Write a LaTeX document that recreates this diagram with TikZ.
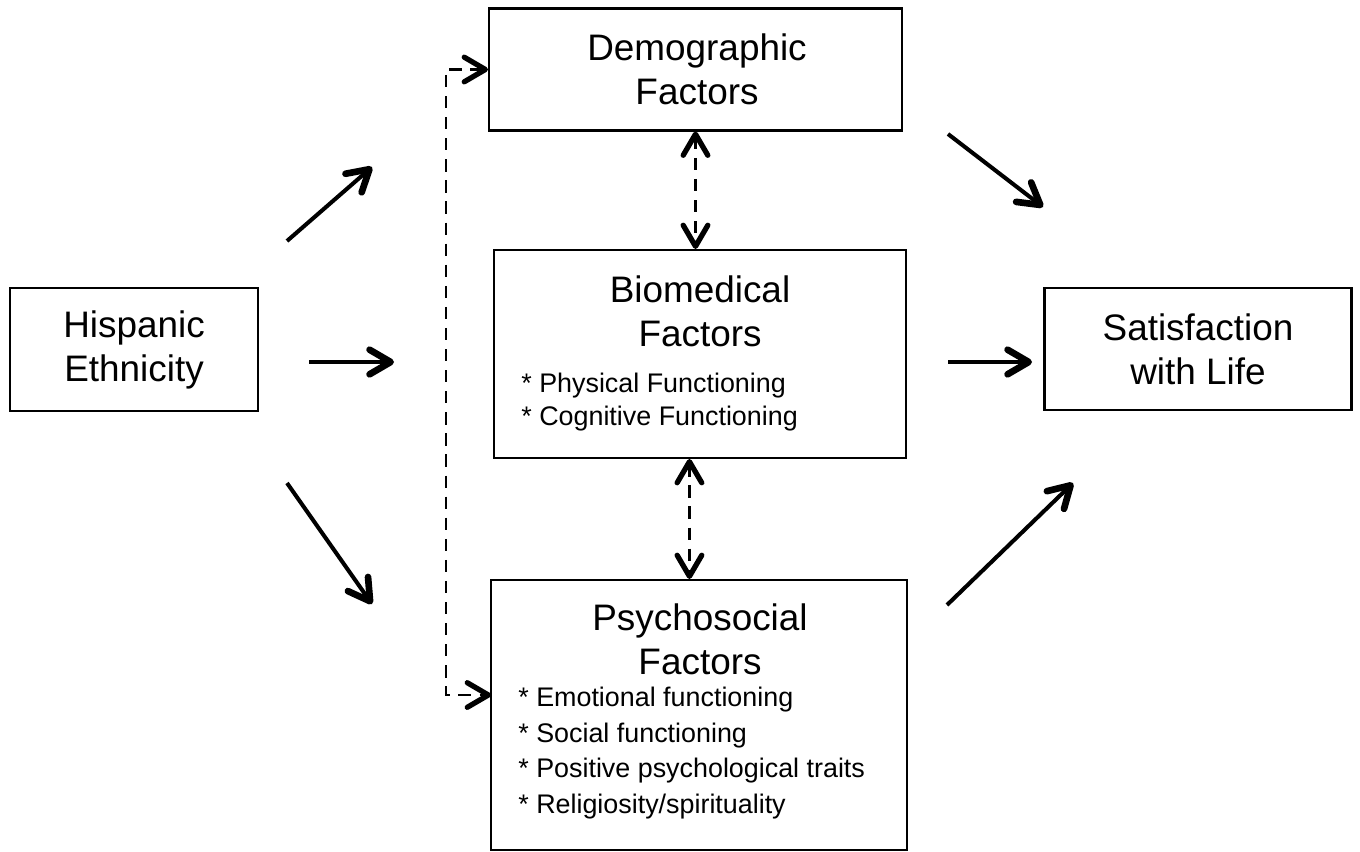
\documentclass[tikz,border=0pt]{standalone}
\usepackage{fontspec}
\setmainfont{Liberation Sans}
\usepackage{tikz}
\usetikzlibrary{arrows.meta}

\begin{document}
\begin{tikzpicture}[x=0.02cm, y=-0.02cm,
    box/.style={draw, line width=1.2pt, inner sep=0pt},
    title/.style={inner sep=0pt, align=center, font=\fontsize{21}{25}\selectfont},
    items/.style={inner sep=0pt, align=left, anchor=west},
    arr/.style={line width=2.3pt, -{Straight Barb[length=12pt, width=14pt, line width=3.8pt, round]}},
    dasharr/.style={line width=1.6pt, dash pattern=on 7pt off 5pt,
      {Straight Barb[length=12pt, width=14pt, line width=3pt, round]}-{Straight Barb[length=12pt, width=14pt, line width=3pt, round]}}]
    \useasboundingbox (0,0) rectangle (1360,852);
    % boxes
    \node[box, minimum width=4.96cm, minimum height=2.46cm] (hisp) at (134,349.5) {};
    \node[box, minimum width=8.26cm, minimum height=2.44cm] (demo) at (695.5,69.5) {};
    \node[box, minimum width=8.24cm, minimum height=4.16cm] (bio) at (700,354) {};
    \node[box, minimum width=8.32cm, minimum height=5.4cm] (psych) at (699,715) {};
    \node[box, minimum width=6.14cm, minimum height=2.44cm] (sat) at (1198,349) {};
    % texts
    \node[title] (hispText) at (hisp) {Hispanic\\Ethnicity};
    \node[title] (demoText) at (697,69.5) {Demographic\\Factors};
    \node[title] (bioText) at (700,311) {Biomedical\\Factors};
    \node[title] (psychText) at (700,639) {Psychosocial\\Factors};
    \node[title] (satText) at (sat) {Satisfaction\\with Life};
    \node[items, font=\fontsize{15.3}{18.7}\selectfont] (bioList) at (521,402)
      {* Physical Functioning\\* Cognitive Functioning};
    \node[items, font=\fontsize{15.3}{20.4}\selectfont] (psychList) at (518,753)
      {* Emotional functioning\\* Social functioning\\* Positive psychological traits\\* Religiosity/spirituality};
    % free arrow ends
    \coordinate (a1s) at (287,241);
    \coordinate (a1e) at (372,167);
    \coordinate (a2s) at (309,362);
    \coordinate (a2e) at (394,362);
    \coordinate (a3s) at (287,483);
    \coordinate (a3e) at (372,604);
    \coordinate (b1s) at (948,134);
    \coordinate (b1e) at (1043,207);
    \coordinate (b2s) at (948,362);
    \coordinate (b2e) at (1032,362);
    \coordinate (b3s) at (947,605);
    \coordinate (b3e) at (1073,483);
    \coordinate (psychIn) at (491,695);
    \draw[arr] (a1s) -- (a1e);
    \draw[arr] (a2s) -- (a2e);
    \draw[arr] (a3s) -- (a3e);
    \draw[arr] (b1s) -- (b1e);
    \draw[arr] (b2s) -- (b2e);
    \draw[arr] (b3s) -- (b3e);
    % dashed links
    \draw[dasharr] (demo.south) -- (demo.south |- bio.north);
    \draw[dasharr] ([xshift=-6pt]bio.south) -- ([xshift=-6pt]bio.south |- psych.north);
    \draw[dasharr] (demo.west) -- ++(-42,0) |- (psychIn);
\end{tikzpicture}
\end{document}
